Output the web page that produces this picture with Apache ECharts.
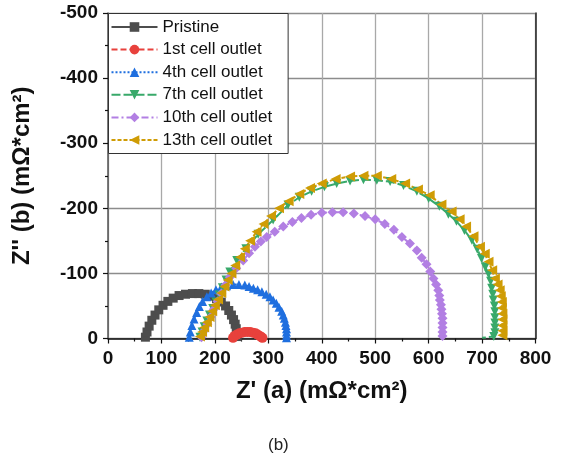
<!DOCTYPE html>
<html>
<head>
<meta charset="utf-8">
<script src="https://cdn.jsdelivr.net/npm/echarts@6/dist/echarts.min.js"></script>
<style>html,body{margin:0;padding:0;background:#fff;}#c{width:562px;height:456px;}</style>
</head>
<body>
<div id="c"></div>
<script>
const seriesNames = ['Pristine', '1st cell outlet', '4th cell outlet', '7th cell outlet', '10th cell outlet', '13th cell outlet'];
const xTicks = [0, 100, 200, 300, 400, 500, 600, 700, 800];
const yTicks = [-500, -400, -300, -200, -100, 0];

const pristine = [[70,-2],[73,-10],[77,-19],[82,-28],[88,-36],[95,-44],[103,-51],[112,-57],[122,-62],[133,-66],[145,-68],[158,-69],[170,-69],[182,-68],[193,-65],[203,-61],[212,-56],[220,-50],[226,-43],[231,-36],[235,-29],[238,-22],[240,-15],[241,-9],[242,-3]];
const cell1 = [[234,-1],[237,-4],[241,-6],[246,-8],[251,-9],[256,-10],[261,-10],[266,-10],[271,-9],[276,-8],[280,-6],[284,-4],[287,-2],[289,-1]];
const cell4 = [[152,-2],[154,-10],[157,-20],[161,-30],[166,-40],[171,-49],[177,-57],[185,-64],[193,-70],[202,-75],[212,-79],[222,-81],[234,-83],[245,-83],[256,-82],[264,-80],[272,-77],[280,-75],[288,-72],[296,-68],[303,-64],[309,-59],[315,-54],[320,-48],[325,-42],[328,-36],[330,-31],[332,-25],[333,-20],[334,-15],[334,-10],[334,-5],[334,-1]];
const cell7 = [[172,-2],[176,-10],[180,-18],[185,-27],[190,-36],[196,-46],[202,-56],[208,-67],[214,-78],[221,-90],[228,-102],[241,-120],[258,-138],[281,-160],[309,-182],[337,-205],[358,-217],[381,-226],[405,-233],[428,-238],[453,-242],[478,-244],[503,-243],[528,-241],[553,-235],[578,-226],[600,-215],[620,-203],[637,-191],[652,-180],[667,-166],[681,-151],[691,-137],[699,-123],[706,-110],[712,-99],[716,-88],[718,-77],[720,-68],[721,-59],[723,-50],[724,-41],[724,-32],[724,-24],[724,-16],[724,-9],[722,-3],[700,-1]];
const cell10 = [[175,-2],[180,-12],[186,-22],[192,-33],[198,-45],[205,-57],[212,-69],[220,-82],[228,-94],[240,-108],[253,-120],[264,-131],[275,-141],[286,-149],[297,-156],[312,-164],[328,-172],[345,-179],[362,-185],[380,-190],[400,-193],[420,-194],[440,-194],[460,-192],[481,-188],[500,-183],[518,-176],[535,-167],[550,-156],[565,-146],[578,-135],[587,-124],[596,-114],[603,-103],[609,-92],[614,-83],[618,-74],[620,-66],[621,-59],[623,-52],[624,-45],[625,-38],[626,-31],[626,-24],[626,-17],[626,-10],[626,-4]];
const cell13 = [[172,-3],[176,-10],[180,-17],[185,-25],[190,-33],[195,-42],[200,-51],[206,-60],[212,-70],[218,-80],[224,-90],[231,-100],[238,-112],[247,-125],[256,-138],[266,-150],[278,-164],[291,-176],[305,-188],[320,-200],[338,-211],[358,-222],[378,-231],[400,-238],[426,-245],[453,-249],[478,-250],[503,-250],[530,-245],[556,-238],[580,-229],[602,-220],[624,-206],[643,-195],[658,-183],[670,-172],[684,-157],[696,-141],[705,-130],[712,-118],[719,-105],[724,-92],[729,-83],[733,-74],[735,-65],[737,-56],[737,-47],[738,-38],[738,-29],[738,-20],[738,-12],[738,-5]];

const dataList = [pristine, cell1, cell4, cell7, cell10, cell13];
const colors = ['#4d4d4d', '#e8413c', '#1f6fdf', '#38a96a', '#b27fe3', '#cf9c05'];
const symbols = ['rect', 'circle', 'triangle', 'triangle', 'diamond', 'triangle'];
const rotations = [0, 0, 0, 180, 0, 90];
const lineTypes = ['solid', [6, 3], [2, 2], [9, 3], [7, 3, 2, 3], [4, 2]];
const symSizes = [9, 10, 9, 9, 10, 10];
const FONT = 'Liberation Sans, Arial, sans-serif';

const series = seriesNames.map((n, i) => ({
  name: n,
  type: 'line',
  data: dataList[i].map((p, j) => (i === 3 && j === dataList[i].length - 1) ? { value: p, symbol: 'none' } : p),
  symbol: symbols[i],
  symbolRotate: rotations[i],
  symbolSize: symSizes[i],
  showAllSymbol: true,
  color: colors[i],
  lineStyle: { width: 2, type: lineTypes[i], color: colors[i] },
  itemStyle: { color: colors[i] },
  emphasis: { disabled: true },
  animation: false
}));

const chart = echarts.init(document.getElementById('c'), null, { renderer: 'canvas' });
chart.setOption({
  backgroundColor: '#fff',
  animation: false,
  title: {
    text: '(b)', left: 263, top: 432,
    textStyle: { fontFamily: FONT, fontSize: 17, fontWeight: 'normal', color: '#222' }
  },
  grid: { left: 108, right: 26.5, top: 13, bottom: 117.5 },
  legend: {
    data: seriesNames,
    orient: 'vertical',
    left: 108.5, top: 13.5,
    itemWidth: 46, itemHeight: 12, itemGap: 5.6,
    padding: [5, 16, 5, 2],
    borderColor: '#333', borderWidth: 1, backgroundColor: '#fff',
    textStyle: { fontFamily: FONT, fontSize: 17, color: '#111' },
    z: 10
  },
  xAxis: [{
    type: 'value', min: 0, max: 800, interval: 100,
    position: 'bottom',
    name: "Z' (a) (mΩ*cm²)", nameLocation: 'middle', nameGap: 41,
    nameTextStyle: { fontFamily: FONT, fontSize: 24, fontWeight: 'bold', color: '#111' },
    axisLine: { show: true, onZero: false, lineStyle: { color: '#111', width: 1.5 } },
    axisTick: { show: true, inside: false, length: 5, lineStyle: { color: '#111', width: 1.2 } },
    minorTick: { show: true, splitNumber: 2, length: 3, lineStyle: { color: '#111', width: 1.2 } },
    axisLabel: { fontFamily: FONT, fontSize: 19, fontWeight: 'bold', color: '#111', margin: 11 },
    splitLine: { show: true, lineStyle: { color: '#a8a8a8', width: 1.3 } }
  }],
  yAxis: [{
    type: 'value', min: -500, max: 0, interval: 100, inverse: true,
    position: 'left',
    name: "Z'' (b) (mΩ*cm²)", nameLocation: 'middle', nameGap: 74, nameRotate: 90,
    nameTextStyle: { fontFamily: FONT, fontSize: 24, fontWeight: 'bold', color: '#111' },
    axisLine: { show: true, onZero: false, lineStyle: { color: '#555', width: 1.5 } },
    axisTick: { show: true, inside: false, length: 5, lineStyle: { color: '#111', width: 1.2 } },
    minorTick: { show: true, splitNumber: 2, length: 3, lineStyle: { color: '#111', width: 1.2 } },
    axisLabel: { fontFamily: FONT, fontSize: 19, fontWeight: 'bold', color: '#111', margin: 10 },
    splitLine: { show: true, lineStyle: { color: '#8c8c8c', width: 1.3 } }
  }, {
    type: 'value', min: -500, max: 0, inverse: true, position: 'right',
    axisLine: { show: true, onZero: false, lineStyle: { color: '#222', width: 1.5 } },
    axisTick: { show: false }, axisLabel: { show: false }, splitLine: { show: false }
  }],
  series: series
});
</script>
</body>
</html>
